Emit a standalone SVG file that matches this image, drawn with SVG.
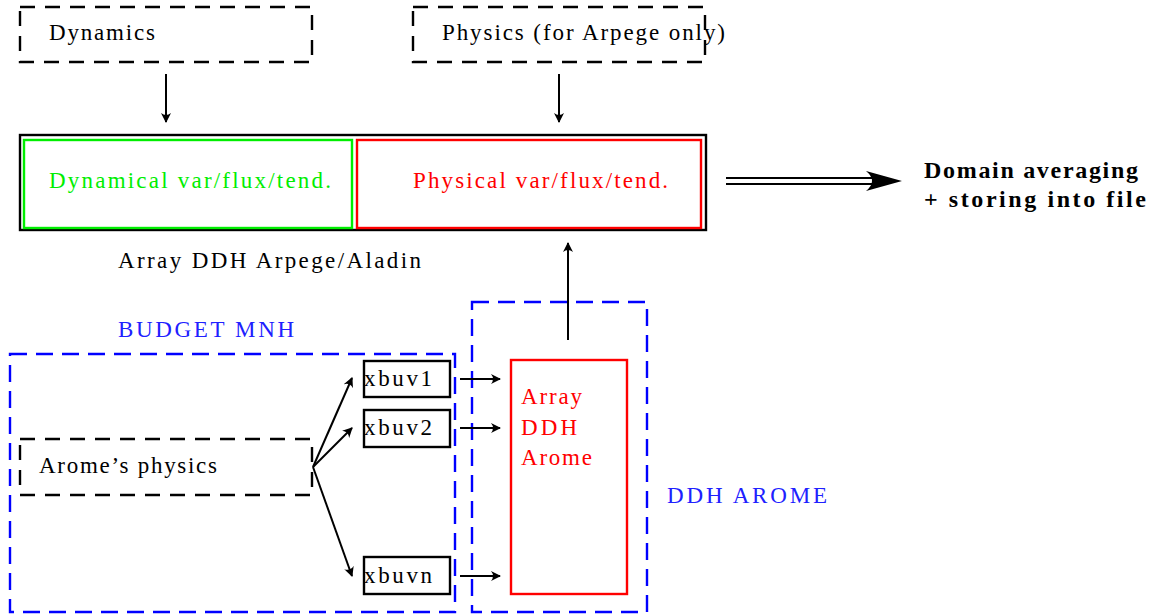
<svg xmlns="http://www.w3.org/2000/svg" width="1162" height="614" viewBox="0 0 1162 614">
<defs>
<style>
text{font-family:"Liberation Serif","Times New Roman",serif;font-size:23px;fill:#000}
.dash{fill:none;stroke:#000;stroke-width:2.4;stroke-dasharray:15,10}
.bdash{fill:none;stroke:#0000ff;stroke-width:2.4;stroke-dasharray:17,9}
.solid{fill:none;stroke:#000;stroke-width:2.4}
.conn{fill:none;stroke:#000;stroke-width:2;marker-end:url(#ah)}
.blue{fill:#2020ff}
.red{fill:#ff0000}
.green{fill:#00ee00}
.bold{font-weight:bold;font-size:24px}
</style>
<marker id="ah" viewBox="0 0 10 10" refX="9" refY="5" markerWidth="10" markerHeight="10" orient="auto" markerUnits="userSpaceOnUse">
<path d="M0,0 Q4,5 0,10 L10,5 Z" fill="#000"/>
</marker>
</defs>

<g id="dynamics">
<rect class="dash" x="20" y="7" width="292" height="55"/>
<text x="49" y="40" textLength="106">Dynamics</text>
</g>
<g id="physics">
<rect class="dash" x="413" y="7" width="292" height="55"/>
<text x="442" y="40" textLength="283">Physics (for Arpege only)</text>
</g>

<g id="array-arpege">
<rect x="20" y="135" width="686" height="95" fill="none" stroke="#000" stroke-width="2.4"/>
<rect x="24" y="140" width="328" height="88" fill="none" stroke="#00ee00" stroke-width="2.4"/>
<rect x="357" y="140" width="344" height="88" fill="none" stroke="#ff0000" stroke-width="2.4"/>
<text class="green" x="49" y="188" textLength="282">Dynamical var/flux/tend.</text>
<text class="red" x="413" y="188" textLength="255">Physical var/flux/tend.</text>
<text x="118" y="268" textLength="303">Array DDH Arpege/Aladin</text>
</g>

<g id="output">
<text class="bold" x="924" y="178" textLength="214">Domain averaging</text>
<text class="bold" x="924" y="207" textLength="222">+ storing into file</text>
</g>

<g id="budget-mnh">
<text class="blue" x="118" y="337" textLength="176">BUDGET MNH</text>
<rect class="bdash" x="10" y="354" width="445" height="258"/>
</g>
<g id="ddh-arome">
<rect class="bdash" x="472" y="302" width="175" height="310"/>
<text class="blue" x="667" y="503" textLength="160">DDH AROME</text>
</g>

<g id="arome-physics">
<rect class="dash" x="20" y="439" width="292" height="56"/>
<text x="39" y="473" textLength="178">Arome’s physics</text>
</g>
<g id="xbuv1">
<rect class="solid" x="364" y="361" width="86" height="36"/>
<text x="364" y="386" textLength="68">xbuv1</text>
</g>
<g id="xbuv2">
<rect class="solid" x="364" y="410" width="86" height="37"/>
<text x="364" y="435" textLength="68">xbuv2</text>
</g>
<g id="xbuvn">
<rect class="solid" x="364" y="557" width="86" height="37"/>
<text x="364" y="583" textLength="68">xbuvn</text>
</g>
<g id="array-arome">
<rect x="511" y="360" width="116" height="234" fill="none" stroke="#ff0000" stroke-width="2.4"/>
<text class="red" x="521" y="404" textLength="61">Array</text>
<text class="red" x="521" y="435" textLength="56">DDH</text>
<text class="red" x="521" y="465" textLength="71">Arome</text>
</g>

<g id="connectors">
<line class="conn" x1="166" y1="74" x2="166" y2="122"/>
<line class="conn" x1="559" y1="74" x2="559" y2="122"/>
<line class="conn" x1="568" y1="340" x2="568" y2="243"/>
<line class="conn" x1="313" y1="467" x2="352" y2="378"/>
<line class="conn" x1="313" y1="467" x2="352" y2="428"/>
<line class="conn" x1="313" y1="467" x2="352" y2="576"/>
<line class="conn" x1="460" y1="379" x2="500" y2="379"/>
<line class="conn" x1="460" y1="428" x2="500" y2="428"/>
<line class="conn" x1="460" y1="576" x2="500" y2="576"/>
<g>
<line x1="726" y1="178" x2="882" y2="178" stroke="#000" stroke-width="2"/>
<line x1="726" y1="184" x2="882" y2="184" stroke="#000" stroke-width="2"/>
<path d="M866,171 L902,181 L866,191 Q878,181 866,171 Z" fill="#000"/>
</g>
</g>
</svg>
